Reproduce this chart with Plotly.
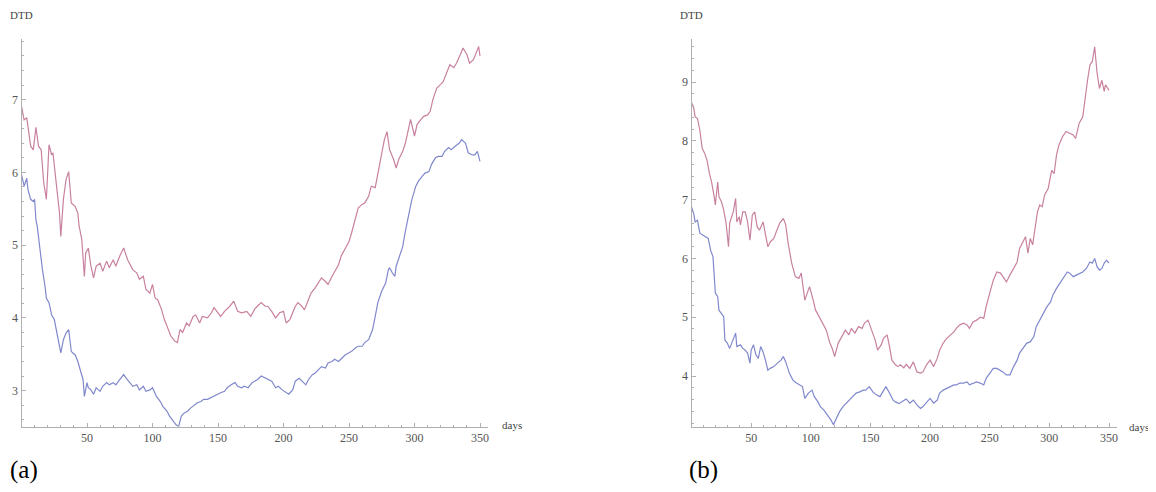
import plotly.graph_objects as go

# ---------------- data ----------------
a_red_days = [0,2,4,7,9,11,13,15,17,19,21,23,24,27,29,30,32,34,36,38,41,43,44,46,48,49,51,53,55,57,60,62,65,67,70,72,75,78,81,85,88,90,93,95,98,100,102,104,107,109,112,114,117,119,121,123,126,128,131,133,136,138,142,145,147,150,152,155,159,162,165,168,172,175,178,180,183,186,188,191,194,197,200,202,205,209,211,214,216,219,221,224,227,229,232,234,237,239,242,244,247,250,252,255,257,260,262,265,267,270,272,275,277,279,281,284,286,288,291,293,296,297,300,302,305,307,310,312,314,317,320,322,325,327,330,332,335,337,340,342,345,347,349,350]
a_red_vals = [6.91,6.72,6.75,6.36,6.31,6.62,6.36,6.31,5.85,5.63,6.38,6.24,6.27,5.76,5.44,5.12,5.63,5.90,6.01,5.58,5.53,5.44,5.26,5.08,4.57,4.89,4.96,4.71,4.55,4.71,4.75,4.64,4.78,4.69,4.80,4.71,4.85,4.96,4.80,4.66,4.62,4.53,4.57,4.39,4.34,4.46,4.27,4.25,4.11,3.98,3.84,3.75,3.68,3.66,3.84,3.80,3.93,3.89,4.02,4.04,3.93,4.02,4.00,4.07,4.14,4.07,4.02,4.09,4.16,4.23,4.09,4.07,4.09,4.02,4.12,4.16,4.21,4.16,4.16,4.09,4.00,4.07,4.09,3.93,3.98,4.16,4.21,4.16,4.11,4.25,4.34,4.41,4.50,4.55,4.50,4.46,4.57,4.64,4.73,4.85,4.96,5.05,5.17,5.40,5.51,5.56,5.58,5.67,5.81,5.79,5.99,6.27,6.45,6.56,6.31,6.18,6.06,6.18,6.29,6.40,6.63,6.73,6.50,6.66,6.73,6.77,6.79,6.84,7.00,7.16,7.21,7.25,7.39,7.48,7.44,7.50,7.62,7.71,7.62,7.50,7.55,7.64,7.73,7.60]

a_blue_days = [0,2,4,5,7,9,10,11,12,14,16,18,19,21,23,25,27,28,30,32,34,36,38,39,41,43,45,47,48,50,51,53,55,57,60,62,65,67,70,72,75,78,80,83,85,88,90,93,95,98,100,103,106,108,111,113,116,118,120,122,124,127,129,132,134,137,139,142,144,147,150,152,155,157,160,163,165,168,170,173,176,178,180,183,186,188,191,194,196,199,201,204,207,209,212,214,217,219,222,224,227,229,232,234,237,239,242,245,247,250,252,255,257,260,262,265,268,270,272,275,278,280,281,283,285,286,289,291,293,296,298,301,303,306,308,311,313,316,318,321,323,326,328,331,334,336,339,341,344,346,348,350]
a_blue_vals = [5.97,5.81,5.92,5.76,5.63,5.60,5.63,5.35,5.26,4.94,4.66,4.43,4.27,4.21,4.04,3.98,3.79,3.66,3.52,3.70,3.79,3.84,3.54,3.52,3.49,3.40,3.29,3.15,2.92,3.11,3.04,3.01,2.95,3.04,2.99,3.06,3.11,3.08,3.11,3.08,3.15,3.22,3.17,3.11,3.06,3.08,3.01,3.06,2.99,3.01,3.04,2.92,2.85,2.78,2.72,2.65,2.58,2.53,2.51,2.65,2.69,2.72,2.76,2.81,2.83,2.85,2.88,2.88,2.90,2.92,2.95,2.97,2.99,3.04,3.08,3.11,3.06,3.04,3.06,3.04,3.11,3.13,3.15,3.20,3.17,3.15,3.13,3.04,3.06,3.01,2.99,2.95,3.01,3.13,3.17,3.13,3.08,3.15,3.22,3.24,3.29,3.33,3.31,3.38,3.40,3.43,3.40,3.45,3.49,3.52,3.54,3.59,3.61,3.61,3.66,3.70,3.84,4.02,4.21,4.37,4.48,4.66,4.69,4.62,4.57,4.71,4.89,4.98,5.19,5.44,5.63,5.81,5.88,5.95,5.99,6.01,6.11,6.20,6.22,6.22,6.29,6.34,6.31,6.36,6.40,6.45,6.40,6.27,6.24,6.24,6.29,6.15]

b_red_days = [0,2,3,5,7,9,11,13,15,17,19,20,22,23,25,27,29,31,32,35,37,38,40,41,43,45,47,49,51,53,55,57,60,62,64,66,69,71,74,77,79,81,84,87,90,92,95,97,99,102,104,107,110,113,116,118,120,123,126,129,132,134,137,140,143,145,148,151,154,156,159,161,164,166,168,171,173,175,178,180,183,186,189,192,194,197,200,203,206,208,211,214,217,220,222,225,228,231,233,236,239,242,245,247,250,253,256,259,261,264,267,270,273,275,278,280,282,284,286,288,290,292,294,296,299,302,304,306,308,311,314,317,320,322,325,328,330,332,334,336,338,340,342,344,346,347,350]
b_red_vals = [8.65,8.55,8.41,8.38,8.18,7.87,7.79,7.67,7.45,7.28,7.05,6.91,7.30,7.05,6.97,6.82,6.60,6.20,6.60,6.79,7.02,6.62,6.71,6.57,6.79,6.79,6.62,6.31,6.74,6.79,6.54,6.48,6.62,6.43,6.20,6.28,6.34,6.45,6.60,6.68,6.57,6.26,5.92,5.69,5.66,5.75,5.29,5.41,5.52,5.29,5.12,5.01,4.90,4.78,4.56,4.47,4.33,4.56,4.67,4.78,4.70,4.81,4.73,4.84,4.81,4.90,4.95,4.78,4.61,4.44,4.53,4.64,4.70,4.50,4.27,4.19,4.16,4.19,4.14,4.20,4.13,4.24,4.07,4.05,4.07,4.19,4.27,4.16,4.30,4.44,4.56,4.64,4.70,4.75,4.81,4.87,4.90,4.87,4.81,4.92,4.95,5.00,4.98,5.18,5.41,5.63,5.77,5.75,5.69,5.60,5.72,5.83,5.94,6.17,6.28,6.37,6.09,6.34,6.23,6.54,6.79,6.91,6.88,7.08,7.19,7.50,7.44,7.76,7.93,8.07,8.16,8.13,8.10,8.04,8.30,8.41,8.75,9.03,9.29,9.35,9.60,9.15,8.89,9.03,8.84,8.95,8.86]

b_blue_days = [0,2,3,5,7,9,12,14,16,18,20,22,23,25,27,28,30,32,35,37,38,41,43,45,47,49,50,52,54,56,58,60,62,64,66,69,72,75,77,79,82,85,88,90,93,95,98,101,103,106,108,111,114,117,119,121,124,127,130,132,135,138,141,144,146,149,152,155,158,160,163,166,169,171,174,177,180,183,186,189,192,194,197,200,203,206,208,211,214,217,220,222,225,228,231,233,236,239,242,245,247,250,253,256,259,261,264,267,270,273,275,278,281,284,287,289,292,295,298,301,303,306,309,312,315,317,320,323,326,328,331,334,336,338,340,342,344,346,348,350]
b_blue_vals = [6.88,6.75,6.62,6.65,6.43,6.40,6.37,6.34,6.14,6.03,5.41,5.35,5.12,5.07,5.01,4.61,4.56,4.47,4.61,4.73,4.50,4.53,4.47,4.44,4.39,4.22,4.44,4.53,4.36,4.30,4.50,4.41,4.27,4.10,4.13,4.16,4.22,4.27,4.33,4.24,4.05,3.93,3.88,3.85,3.82,3.62,3.71,3.76,3.65,3.56,3.48,3.42,3.34,3.25,3.17,3.25,3.39,3.48,3.54,3.59,3.65,3.71,3.73,3.76,3.76,3.82,3.73,3.68,3.65,3.71,3.82,3.71,3.59,3.56,3.53,3.57,3.61,3.54,3.59,3.51,3.45,3.48,3.56,3.62,3.54,3.59,3.71,3.76,3.79,3.82,3.85,3.85,3.88,3.88,3.90,3.85,3.88,3.90,3.88,3.85,3.96,4.05,4.13,4.13,4.10,4.07,4.02,4.02,4.16,4.27,4.39,4.47,4.56,4.58,4.67,4.84,4.95,5.07,5.18,5.26,5.38,5.49,5.58,5.66,5.77,5.75,5.69,5.72,5.75,5.77,5.83,5.94,5.92,6.00,5.86,5.80,5.83,5.92,5.97,5.92]

x_ticks = [50, 100, 150, 200, 250, 300, 350]
a_y_ticks = [3, 4, 5, 6, 7]
b_y_ticks = [4, 5, 6, 7, 8, 9]
panel_labels = ["(a)", "(b)"]

RED = "#c8819f"
BLUE = "#8088cc"
PAGE_MARGIN = 8          # default body margin of the page
W, H = 1156 - 2 * PAGE_MARGIN, 492 - 2 * PAGE_MARGIN
SERIF = "Liberation Serif"

fig = go.Figure()
fig.add_trace(go.Scatter(x=a_red_days, y=a_red_vals, mode="lines", line=dict(color=RED, width=1.2), xaxis="x", yaxis="y"))
fig.add_trace(go.Scatter(x=a_blue_days, y=a_blue_vals, mode="lines", line=dict(color=BLUE, width=1.2), xaxis="x", yaxis="y"))
fig.add_trace(go.Scatter(x=b_red_days, y=b_red_vals, mode="lines", line=dict(color=RED, width=1.2), xaxis="x2", yaxis="y2"))
fig.add_trace(go.Scatter(x=b_blue_days, y=b_blue_vals, mode="lines", line=dict(color=BLUE, width=1.2), xaxis="x2", yaxis="y2"))


def px(v):
    return (v - PAGE_MARGIN) / W


def py(v):
    return (H - (v - PAGE_MARGIN)) / H


ydom = [py(427), py(39)]
tick_col = "#b0b0b0"
axis_common = dict(showline=True, linecolor=tick_col, linewidth=1, ticks="inside",
                   tickcolor=tick_col, ticklen=4, showgrid=False, zeroline=False,
                   tickfont=dict(family=SERIF, size=12, color="#555555"))

fig.update_layout(
    width=W, height=H, margin=dict(l=0, r=0, t=0, b=0),
    paper_bgcolor="white", plot_bgcolor="white", showlegend=False,
    font=dict(family=SERIF),
    xaxis=dict(domain=[px(21.5), px(488)], range=[0, 356.1], tickvals=x_ticks, anchor="y",
               minor=dict(dtick=10, tick0=0, ticks="inside", ticklen=2, tickcolor=tick_col), **axis_common),
    yaxis=dict(domain=ydom, range=[2.5, 2.5 + 388 / 72.75], tickvals=a_y_ticks, anchor="x",
               minor=dict(dtick=0.2, tick0=0, ticks="inside", ticklen=2, tickcolor=tick_col), **axis_common),
    xaxis2=dict(domain=[px(691.5), px(1117)], range=[0, 356.7], tickvals=x_ticks, anchor="y2",
                minor=dict(dtick=10, tick0=0, ticks="inside", ticklen=2, tickcolor=tick_col), **axis_common),
    yaxis2=dict(domain=ydom, range=[3.133, 3.133 + 388 / 58.8], tickvals=b_y_ticks, anchor="x2",
                minor=dict(dtick=0.2, tick0=0, ticks="inside", ticklen=2, tickcolor=tick_col), **axis_common),
)

ann_font = dict(family=SERIF, size=11, color="#444444")
fig.add_annotation(x=px(8), y=py(15), xref="paper", yref="paper", text="DTD", showarrow=False,
                   xanchor="left", yanchor="middle", font=ann_font)
fig.add_annotation(x=px(678), y=py(15), xref="paper", yref="paper", text="DTD", showarrow=False,
                   xanchor="left", yanchor="middle", font=ann_font)
fig.add_annotation(x=px(500), y=py(425), xref="paper", yref="paper", text="days", showarrow=False,
                   xanchor="left", yanchor="middle", font=ann_font)
fig.add_annotation(x=px(1127), y=py(427), xref="paper", yref="paper", text="days", showarrow=False,
                   xanchor="left", yanchor="middle", font=ann_font)
fig.add_annotation(x=px(8), y=py(470), xref="paper", yref="paper", text=panel_labels[0], showarrow=False,
                   xanchor="left", yanchor="middle", font=dict(family=SERIF, size=25, color="black"))
fig.add_annotation(x=px(687), y=py(470), xref="paper", yref="paper", text=panel_labels[1], showarrow=False,
                   xanchor="left", yanchor="middle", font=dict(family=SERIF, size=25, color="black"))

fig.write_html("out.html")
